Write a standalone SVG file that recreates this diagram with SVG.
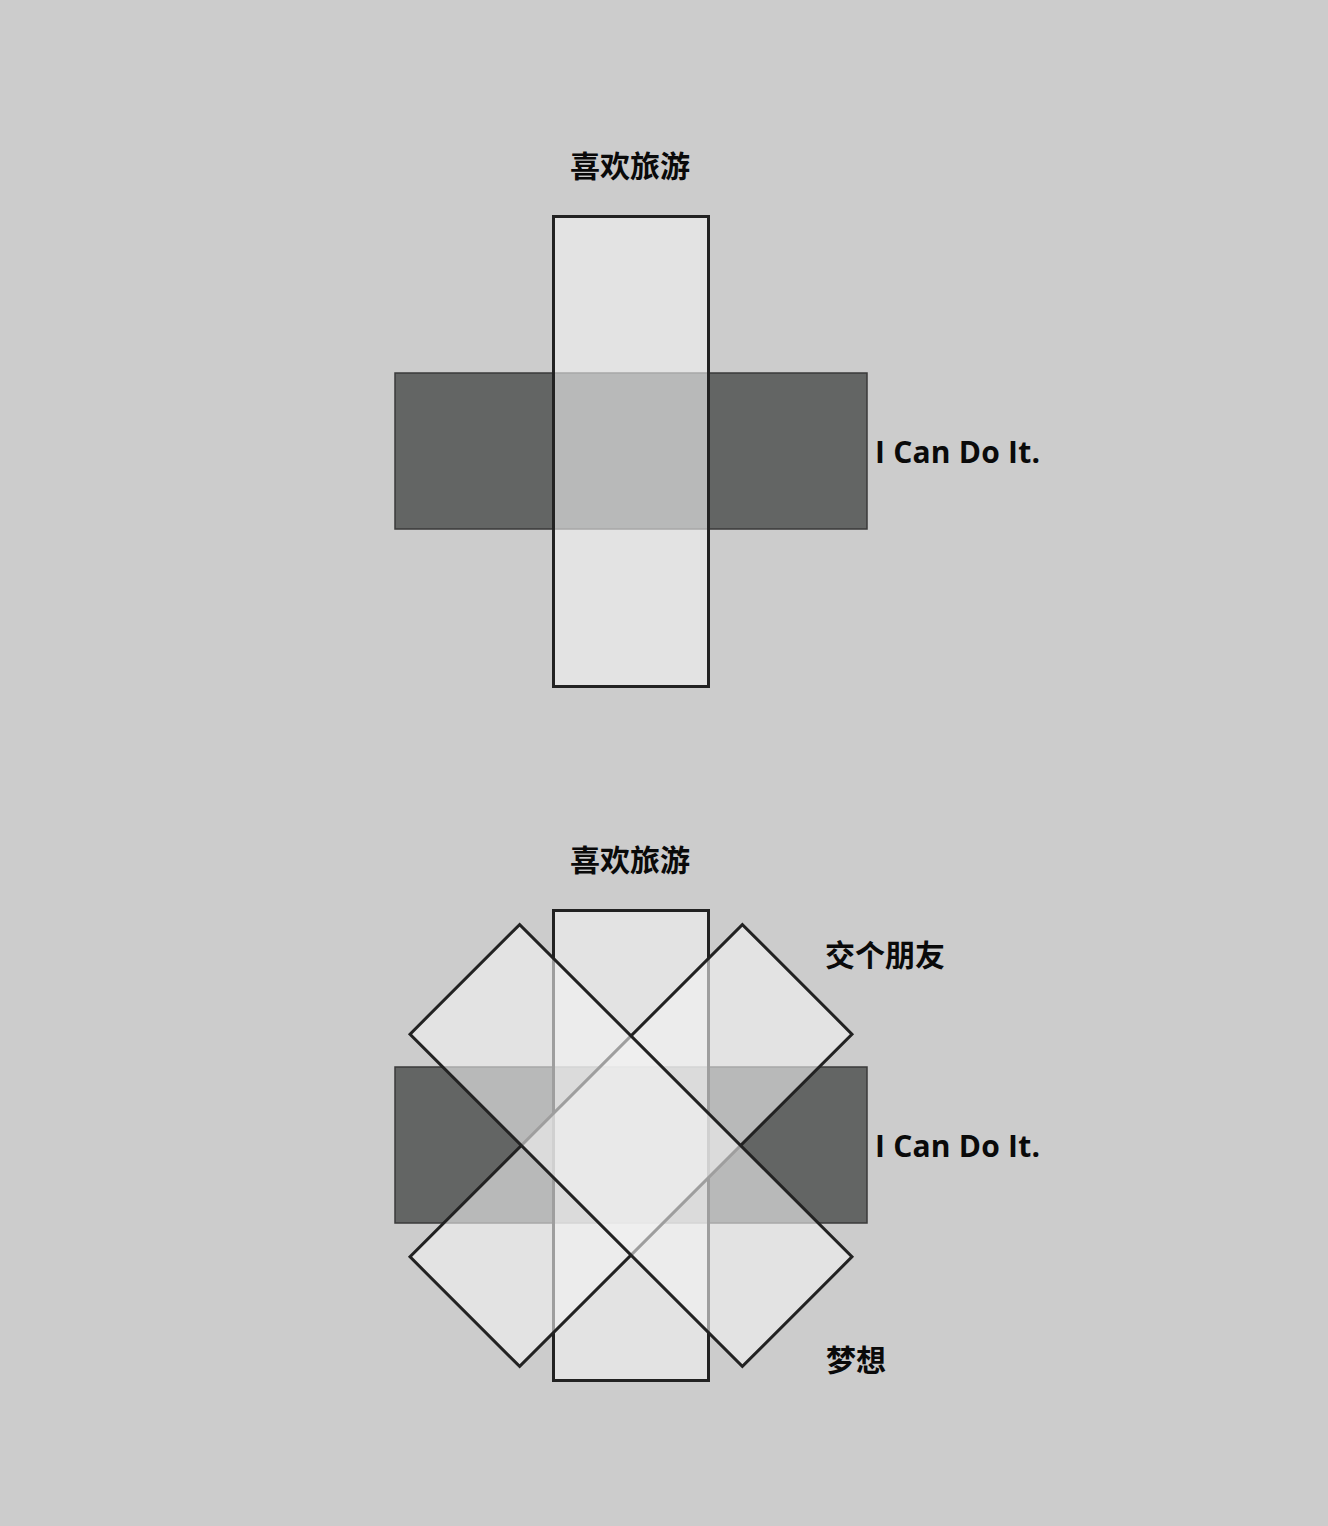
<svg xmlns="http://www.w3.org/2000/svg" width="1328" height="1526" viewBox="0 0 1328 1526">
<style>
.bg{fill:#cccccc}
.dark{fill:#636564;stroke:#3a3a3a;stroke-width:1.5}
.light{fill:#f2f2f2;fill-opacity:0.6;stroke:#222222;stroke-width:3}
.lbl{font-family:"Noto Sans CJK SC","Noto Sans",sans-serif;font-weight:bold;font-size:30px;fill:#0a0a0a}
.lat{font-family:"Open Sans","Noto Sans",sans-serif;font-weight:bold;font-size:30px;fill:#0a0a0a}
.mid{text-anchor:middle}
</style>
<rect class="bg" x="0" y="0" width="1328" height="1526"/>
<g id="top">
  <g id="top-horizontal"><rect class="dark" x="395" y="373" width="472" height="156"/></g>
  <g id="top-vertical"><rect class="light" x="553.5" y="216.5" width="155" height="470"/></g>
  <g id="top-label-travel"><text class="lbl mid" x="630" y="177">喜欢旅游</text></g>
  <g id="top-label-can"><text class="lat" x="875" y="463" textLength="165" lengthAdjust="spacing">I Can Do It.</text></g>
</g>
<g id="bottom">
  <g id="bottom-horizontal"><rect class="dark" x="395" y="1067" width="472" height="156"/></g>
  <g id="bottom-vertical"><rect class="light" x="553.5" y="910.5" width="155" height="470"/></g>
  <g id="bottom-diag-right"><rect class="light" x="553.5" y="910.5" width="155" height="470" transform="rotate(45 631 1145.5)"/></g>
  <g id="bottom-diag-left"><rect class="light" x="553.5" y="910.5" width="155" height="470" transform="rotate(-45 631 1145.5)"/></g>
  <g id="bottom-label-travel"><text class="lbl mid" x="630" y="871">喜欢旅游</text></g>
  <g id="bottom-label-friend"><text class="lbl" x="825" y="966">交个朋友</text></g>
  <g id="bottom-label-can"><text class="lat" x="875" y="1157" textLength="165" lengthAdjust="spacing">I Can Do It.</text></g>
  <g id="bottom-label-dream"><text class="lbl" x="826" y="1371">梦想</text></g>
</g>
<g id="connectors"></g>
</svg>
